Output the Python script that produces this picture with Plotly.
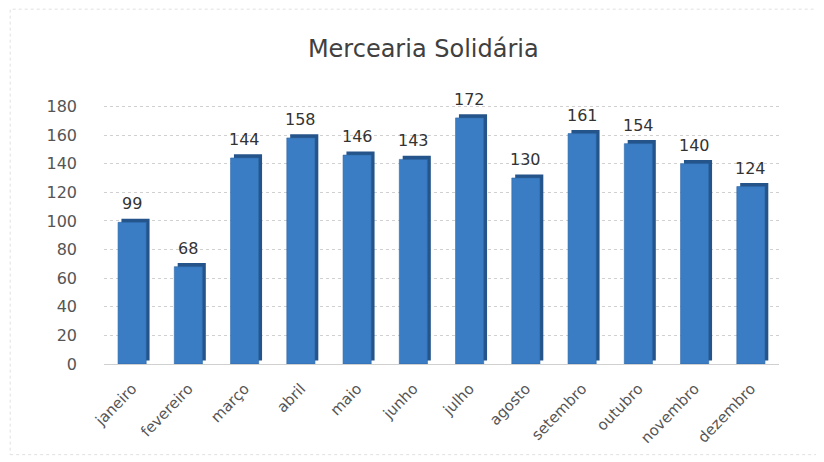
import plotly.graph_objects as go

months = ["janeiro", "fevereiro", "março", "abril", "maio", "junho", "julho",
          "agosto", "setembro", "outubro", "novembro", "dezembro"]
values = [99, 68, 144, 158, 146, 143, 172, 130, 161, 154, 140, 124]
y_ticks = [0, 20, 40, 60, 80, 100, 120, 140, 160, 180]

FONT = "'DejaVu Sans', sans-serif"

fig = go.Figure()

# darker "side/top" face to suggest 3D depth
fig.add_trace(go.Bar(
    x=months, y=values, base=2.5,
    width=0.5, offset=-0.19,
    marker=dict(color="#24548a", line=dict(width=0)),
    hoverinfo="skip", showlegend=False,
))
# main front face
fig.add_trace(go.Bar(
    x=months, y=values,
    width=0.5, offset=-0.25,
    marker=dict(color="#3b7dc4", line=dict(width=0.6, color="#2d66a6")),
    showlegend=False,
))

annotations = [
    dict(x=m, y=v, xref="x", yref="y", text=str(v), showarrow=False,
         yanchor="bottom", yshift=7,
         font=dict(family=FONT, size=16, color="#333333"))
    for m, v in zip(months, values)
]

fig.update_layout(
    width=824, height=462,
    barmode="overlay",
    paper_bgcolor="white", plot_bgcolor="white",
    margin=dict(l=96, r=53, t=97, b=106),
    title=dict(text="Mercearia Solidária", x=0.504, xanchor="center",
               y=0.913, yanchor="middle",
               font=dict(family=FONT, size=24, color="#404040")),
    xaxis=dict(tickangle=-46, showgrid=False, showline=False, ticks="",
               ticklabelstandoff=12,
               tickfont=dict(family=FONT, size=15, color="#555555")),
    yaxis=dict(range=[0, 181], tickvals=y_ticks, showline=False, ticks="",
               gridcolor="#d0d0d0", griddash="dot", gridwidth=1,
               zeroline=True, zerolinecolor="#d0d0d0", zerolinewidth=1,
               ticklabelstandoff=26,
               tickfont=dict(family=FONT, size=16, color="#555555")),
    annotations=annotations,
    shapes=[dict(type="rect", xref="paper", yref="paper",
                 x0=-0.139, x1=1.064, y0=-0.35, y1=1.37,
                 line=dict(color="#e0e0e0", width=1, dash="dot"))],
)

fig.write_html("out.html")
